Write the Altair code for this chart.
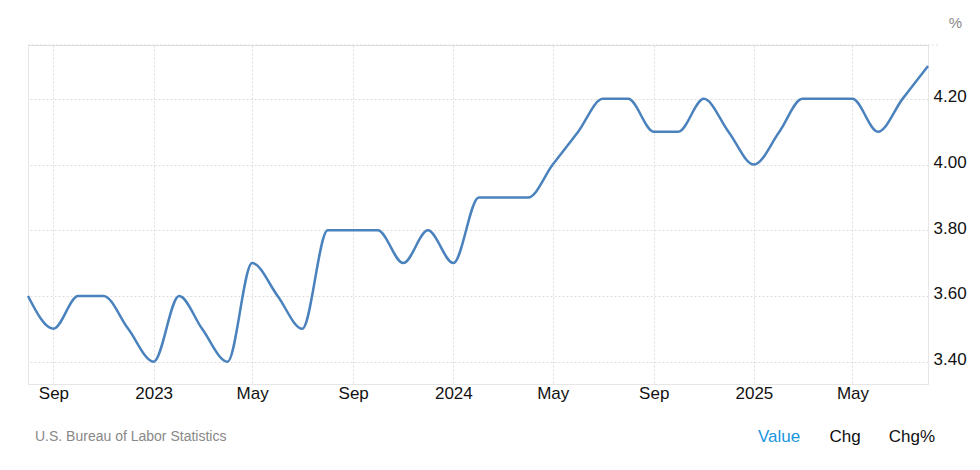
import altair as alt
import pandas as pd

months = pd.date_range("2022-08-01", "2025-08-01", freq="MS").strftime("%Y-%m-%d").tolist()
values = [3.6, 3.5, 3.6, 3.6, 3.5, 3.4, 3.6, 3.5, 3.4, 3.7, 3.6, 3.5,
          3.8, 3.8, 3.8, 3.7, 3.8, 3.7, 3.9, 3.9, 3.9, 4.0, 4.1, 4.2,
          4.2, 4.1, 4.1, 4.2, 4.1, 4.0, 4.1, 4.2, 4.2, 4.2, 4.1, 4.2, 4.3]
y_ticks = [3.4, 3.6, 3.8, 4.0, 4.2]
x_ticks = [(2022, 9), (2023, 1), (2023, 5), (2023, 9), (2024, 1), (2024, 5),
           (2024, 9), (2025, 1), (2025, 5)]
source_text = "U.S. Bureau of Labor Statistics"
buttons = ["Value", "Chg", "Chg%"]

df = pd.DataFrame({"date": months, "value": values})

FONT = "Liberation Sans"
GRID = "#dedede"
y_dom = [3.332, 4.364]

x_scale = alt.Scale(type="utc", domain=[alt.DateTime(year=2022, month=8, date=1, utc=True),
                                          alt.DateTime(year=2025, month=8, date=1, utc=True)])
y_scale = alt.Scale(domain=y_dom, nice=False, zero=False)

x_axis = alt.Axis(
    values=[alt.DateTime(year=y, month=m, date=1, utc=True) for y, m in x_ticks],
    labelExpr="utcFormat(datum.value, '%m') == '01' ? utcFormat(datum.value, '%Y') : utcFormat(datum.value, '%b')",
    title=None, ticks=False, domain=True, domainColor="#e6e6e6", domainWidth=1,
    grid=True, gridColor=GRID, gridDash=[2, 2], gridWidth=1,
    labelFont=FONT, labelFontSize=17, labelColor="#111", labelPadding=1,
)
y_axis = alt.Axis(
    orient="right", values=y_ticks, format=".2f", title="%", titleAngle=0,
    titleX=27, titleY=-23, titleAlign="center", titleBaseline="middle",
    titleFont=FONT, titleFontSize=15, titleFontWeight="normal", titleColor="#888",
    ticks=False, domain=True, domainColor="#e6e6e6", domainWidth=1,
    grid=True, gridColor=GRID, gridDash=[2, 2], gridWidth=1,
    labelFont=FONT, labelFontSize=17, labelColor="#111", labelPadding=5,
    labelBaseline="middle", labelOffset=-2,
)

line = alt.Chart(df).mark_line(interpolate="monotone", color="#4a82bd", strokeWidth=2.5).encode(
    x=alt.X("date:T", scale=x_scale, axis=x_axis),
    y=alt.Y("value:Q", scale=y_scale, axis=y_axis),
)

border_df = pd.DataFrame({"top": [y_dom[1]]})
top_rule = alt.Chart(border_df).mark_rule(color=GRID, strokeDash=[2, 2], strokeWidth=1).encode(
    y=alt.Y("top:Q", scale=y_scale), x=alt.value(0), x2=alt.value(910)
)
left_rule = alt.Chart(border_df).mark_rule(color="#e6e6e6", strokeWidth=1).encode(
    x=alt.value(0.5), y=alt.value(0), y2=alt.value(339)
)

src = alt.Chart(pd.DataFrame({"t": [source_text]})).mark_text(
    font=FONT, fontSize=14, color="#888", align="left", baseline="middle"
).encode(text="t:N", x=alt.value(7), y=alt.value(392))

btn_df = pd.DataFrame({"t": buttons, "c": ["#1a96e0", "#111", "#111"], "px": [751, 817, 884]})
btns = alt.Chart(btn_df).mark_text(font=FONT, fontSize=17, align="center", baseline="middle").encode(
    text="t:N", x=alt.X("px:Q", scale=None), y=alt.value(392), color=alt.Color("c:N", scale=None)
)

chart = alt.layer(top_rule, left_rule, line, src, btns).properties(
    width=900, height=339,
    autosize=alt.AutoSizeParams(type="none"),
    padding={"left": 20, "top": 37, "right": 44, "bottom": 70},
).configure_view(strokeWidth=0).configure(background="white")

chart.save("out.html", embed_options={"renderer": "svg", "actions": False})
